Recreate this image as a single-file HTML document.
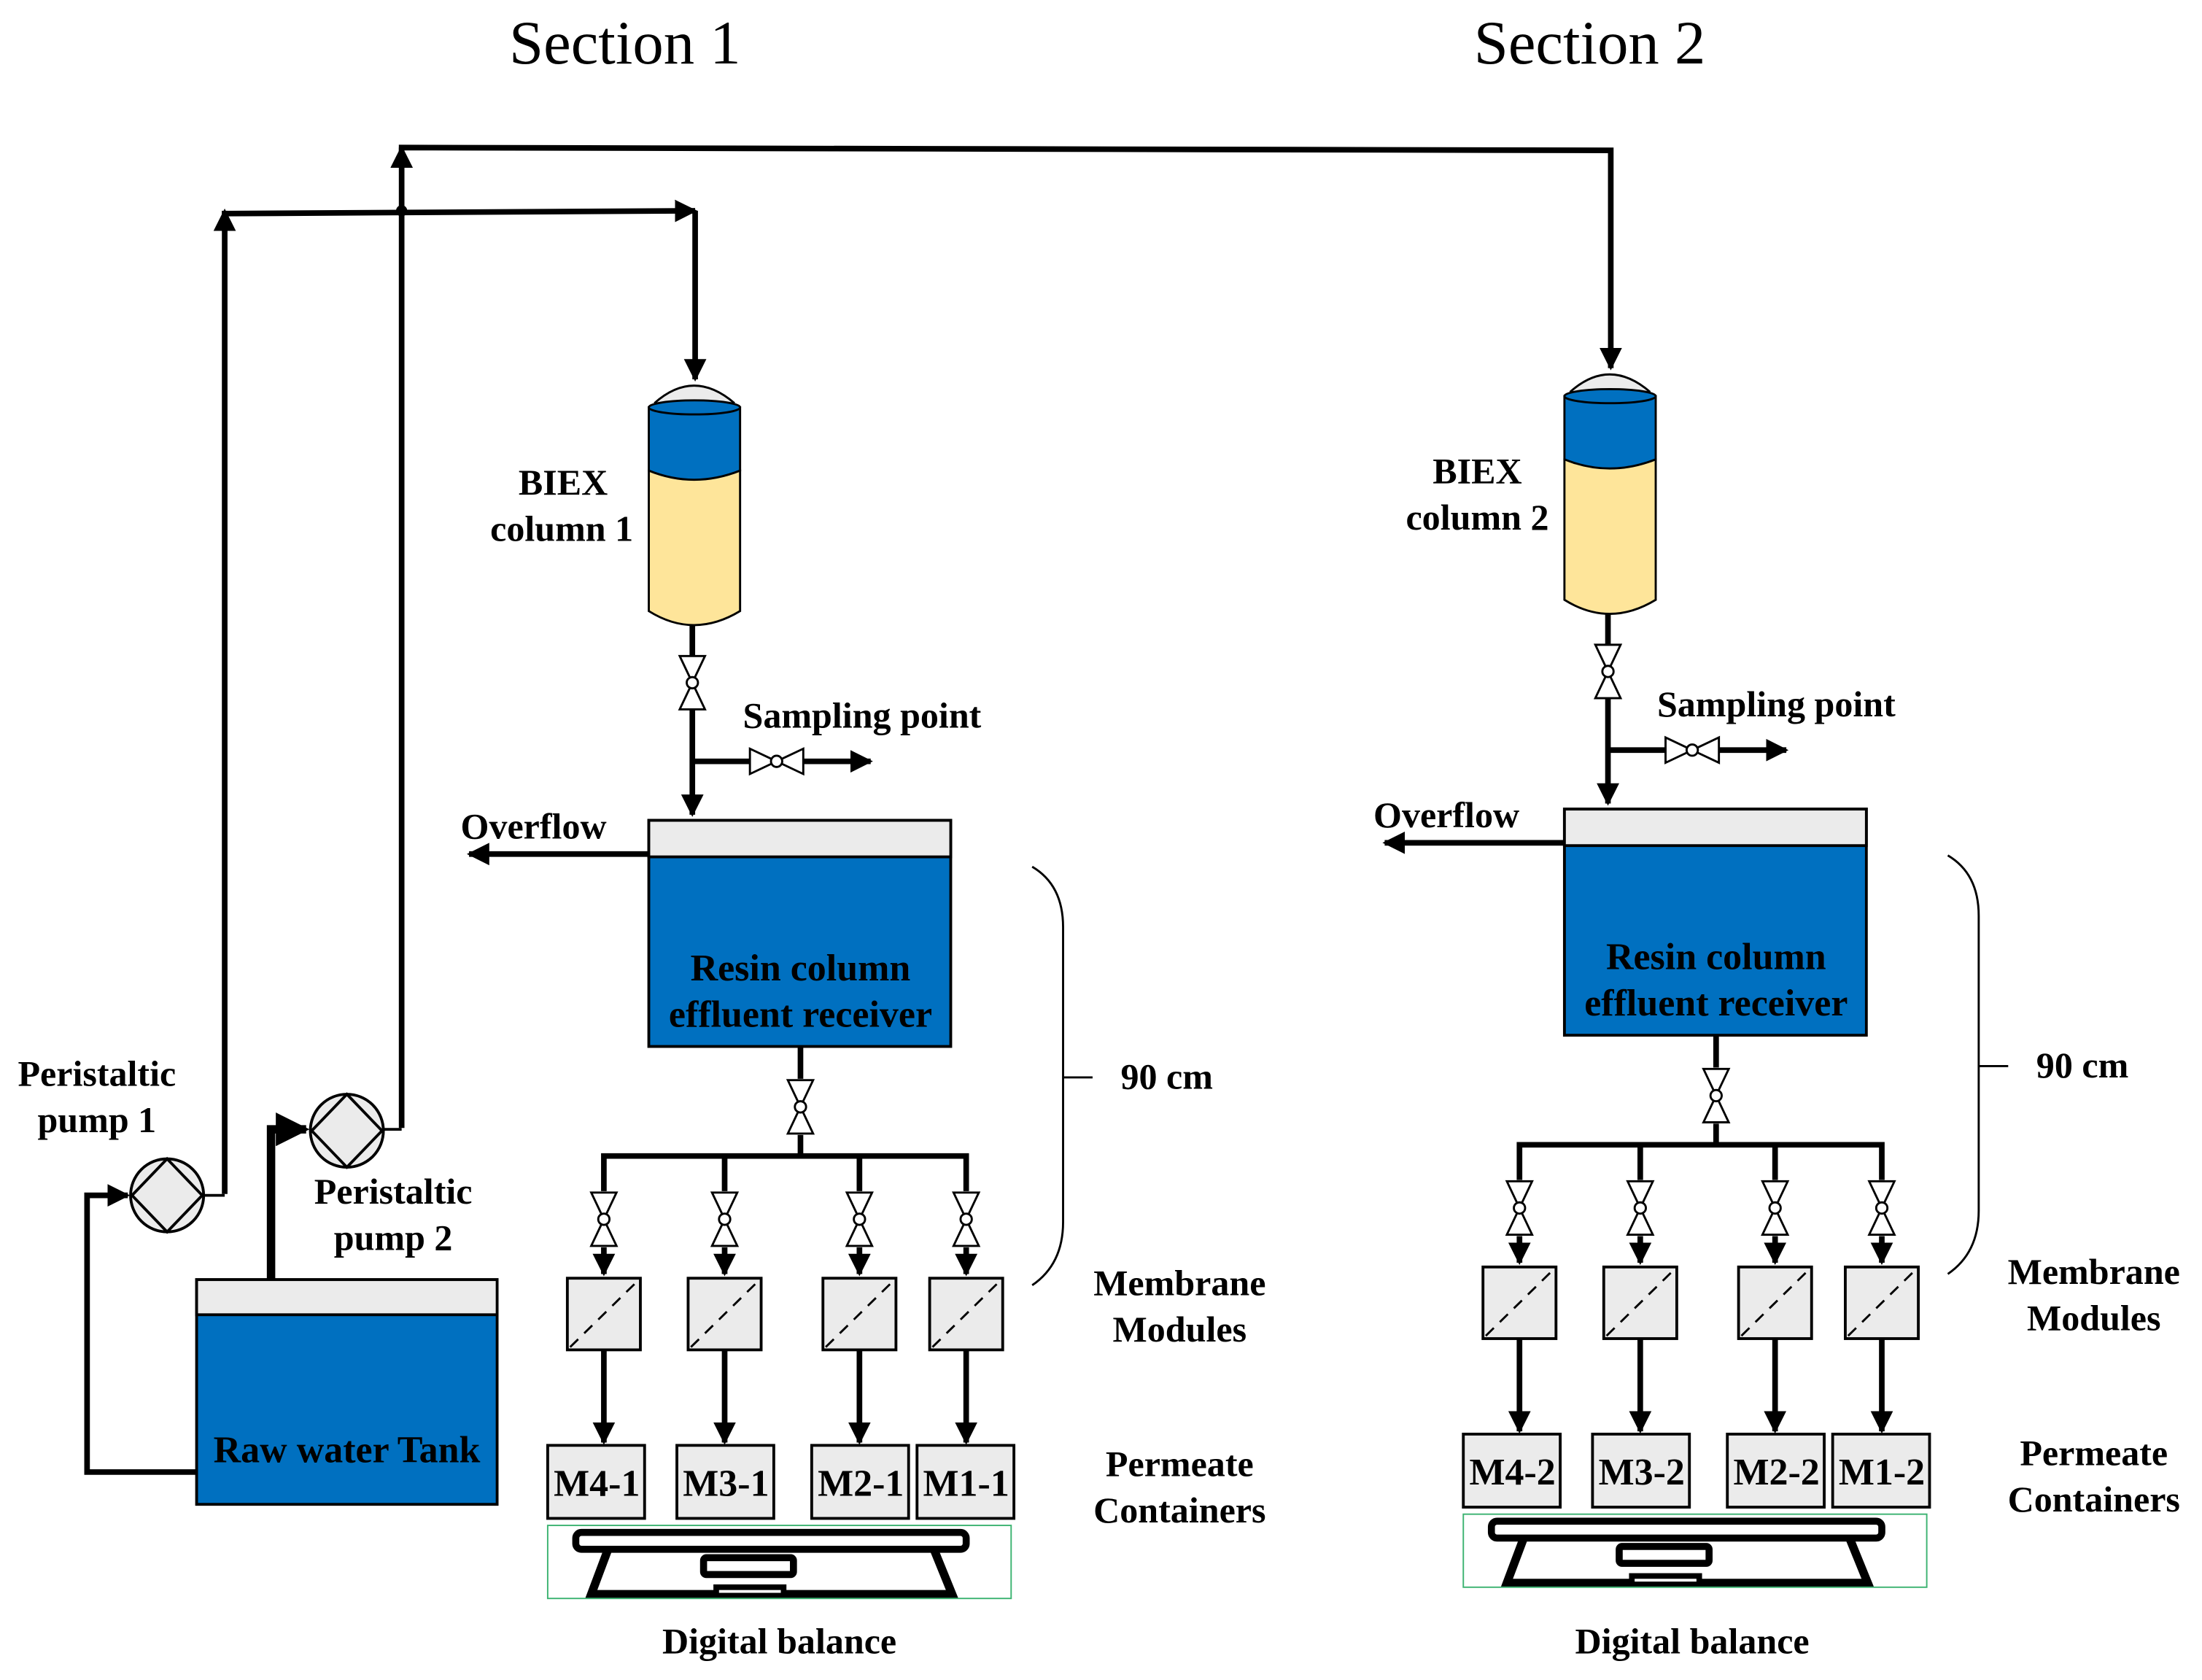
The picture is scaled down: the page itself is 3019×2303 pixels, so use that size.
<!DOCTYPE html>
<html><head><meta charset="utf-8"><style>
html,body{margin:0;padding:0;background:#fff;}
svg{display:block;}
text{font-family:"Liberation Serif",serif;font-weight:bold;fill:#000;}
</style></head><body>
<svg width="3019" height="2303" viewBox="0 0 1568 1196" xmlns="http://www.w3.org/2000/svg">
<defs>
<marker id="ah" viewBox="0 0 10 10" refX="9" refY="5" markerWidth="4" markerHeight="4" orient="auto"><path d="M0,0 L10,5 L0,10 z" fill="#000"/></marker>
<g id="vv"><path d="M-9,-19 L9,-19 L0,0 z M-9,19 L9,19 L0,0 z" fill="#fff" stroke="#000" stroke-width="1.5"/><circle cx="0" cy="0" r="4" fill="#fff" stroke="#000" stroke-width="1.5"/></g>
<g id="hv"><path d="M-19,-9 L-19,9 L0,0 z M19,-9 L19,9 L0,0 z" fill="#fff" stroke="#000" stroke-width="1.5"/><circle cx="0" cy="0" r="4" fill="#fff" stroke="#000" stroke-width="1.5"/></g>
<g id="mod"><rect x="0" y="0" width="52" height="51" fill="#ebebeb" stroke="#000" stroke-width="2"/><line x1="2" y1="49" x2="50" y2="2" stroke="#000" stroke-width="1.5" stroke-dasharray="8,6"/></g>
<g id="bal">
<rect x="410" y="1091" width="278" height="12" rx="4" fill="#fff" stroke="#000" stroke-width="5"/>
<path d="M433,1103 L421,1135 L678,1135 L665,1103" fill="none" stroke="#000" stroke-width="6"/>
<rect x="501" y="1109" width="64" height="12" rx="2" fill="#fff" stroke="#000" stroke-width="5"/>
<rect x="510" y="1130" width="48" height="6" fill="#fff" stroke="#000" stroke-width="4"/>
<rect x="390" y="1086" width="330" height="52" fill="none" stroke="#3cb371" stroke-width="1"/>
</g>
</defs>

<text x="445" y="45" font-size="44" text-anchor="middle" style="font-weight:normal">Section 1</text>
<text x="1132" y="45" font-size="44" text-anchor="middle" style="font-weight:normal">Section 2</text>

<g fill="none" stroke="#000" stroke-width="4">
<polyline points="286,803 286,105 1147,107 1147,262" marker-end="url(#ah)"/>
<polyline points="160,850 160,152 495,150" marker-end="url(#ah)"/>
<polyline points="495,150 495,270" marker-end="url(#ah)"/>
<polyline points="160,160 160,150" marker-end="url(#ah)"/>
<polyline points="286,115 286,105" marker-end="url(#ah)"/>
<polyline points="140,1048 62,1048 62,851 91,851" marker-end="url(#ah)"/>
<line x1="145" y1="851" x2="160" y2="851" stroke-width="2"/>
<polyline points="193,911 193,804 218,804" stroke-width="6" marker-end="url(#ah)"/>
<line x1="273" y1="804" x2="286" y2="804" stroke-width="2"/>
</g>
<circle cx="286" cy="150" r="4" fill="#000"/>

<circle cx="119" cy="851" r="26" fill="#ebebeb" stroke="#000" stroke-width="2"/>
<path d="M119,825 L144,851 L119,877 L94,851 z" fill="none" stroke="#000" stroke-width="2"/>
<circle cx="247" cy="805" r="26" fill="#ebebeb" stroke="#000" stroke-width="2"/>
<path d="M247,779 L272,805 L247,831 L222,805 z" fill="none" stroke="#000" stroke-width="2"/>

<rect x="140" y="911" width="214" height="160" fill="#0070c0" stroke="#000" stroke-width="2"/>
<rect x="140" y="911" width="214" height="25" fill="#ebebeb" stroke="#000" stroke-width="2"/>
<text x="247" y="1041" font-size="27" text-anchor="middle">Raw water Tank</text>
<text x="69" y="773" font-size="26" text-anchor="middle">Peristaltic</text>
<text x="69" y="806" font-size="26" text-anchor="middle">pump 1</text>
<text x="280" y="857" font-size="26" text-anchor="middle">Peristaltic</text>
<text x="280" y="890" font-size="26" text-anchor="middle">pump 2</text>

<g id="s1">
<path d="M466,287 Q494,262 523,287" fill="#ebebeb" stroke="#000" stroke-width="1.5"/>
<path d="M462,335 L462,435 Q494,455 527,435 L527,335 z" fill="#fee59a" stroke="#000" stroke-width="1.5"/>
<path d="M462,290 L462,335 Q494,348 527,335 L527,290 z" fill="#0070c0" stroke="#000" stroke-width="1.5"/>
<ellipse cx="494.5" cy="290" rx="32.5" ry="5" fill="#0070c0" stroke="#000" stroke-width="1.5"/>
<g fill="none" stroke="#000" stroke-width="4">
<line x1="493" y1="445" x2="493" y2="467"/>
<polyline points="493,505 493,580" marker-end="url(#ah)"/>
<polyline points="493,542 620,542" marker-end="url(#ah)"/>
<polyline points="462,608 334,608" marker-end="url(#ah)"/>
<line x1="570" y1="745" x2="570" y2="768"/>
<polyline points="570,808 570,823"/>
<polyline points="430,848 430,823 688,823 688,848"/>
<line x1="516" y1="823" x2="516" y2="848"/><line x1="612" y1="823" x2="612" y2="848"/>
<polyline points="430,888 430,907" marker-end="url(#ah)"/>
<polyline points="516,888 516,907" marker-end="url(#ah)"/>
<polyline points="612,888 612,907" marker-end="url(#ah)"/>
<polyline points="688,888 688,907" marker-end="url(#ah)"/>
<polyline points="430,961 430,1027" marker-end="url(#ah)"/>
<polyline points="516,961 516,1027" marker-end="url(#ah)"/>
<polyline points="612,961 612,1027" marker-end="url(#ah)"/>
<polyline points="688,961 688,1027" marker-end="url(#ah)"/>
</g>
<use href="#vv" x="493" y="486"/>
<use href="#hv" x="553" y="542"/>
<use href="#vv" x="570" y="788"/>
<use href="#vv" x="430" y="868"/><use href="#vv" x="516" y="868"/><use href="#vv" x="612" y="868"/><use href="#vv" x="688" y="868"/>
<rect x="462" y="584" width="215" height="161" fill="#0070c0" stroke="#000" stroke-width="2"/>
<rect x="462" y="584" width="215" height="26" fill="#ebebeb" stroke="#000" stroke-width="2"/>
<use href="#mod" x="404" y="910"/><use href="#mod" x="490" y="910"/><use href="#mod" x="586" y="910"/><use href="#mod" x="662" y="910"/>
<g fill="#ebebeb" stroke="#000" stroke-width="2">
<rect x="390" y="1029" width="69" height="52"/><rect x="482" y="1029" width="69" height="52"/>
<rect x="578" y="1029" width="69" height="52"/><rect x="653" y="1029" width="69" height="52"/>
</g>
<use href="#bal"/>
<path d="M735,617 Q757,630 757,660 L757,870 Q757,900 735,915" fill="none" stroke="#000" stroke-width="1.5"/>
<line x1="757" y1="767" x2="778" y2="767" stroke="#000" stroke-width="1.5"/>
</g>
<text x="401" y="352" font-size="26" text-anchor="middle">BIEX</text>
<text x="400" y="385" font-size="26" text-anchor="middle">column 1</text>
<text x="529" y="518" font-size="26">Sampling point</text>
<text x="328" y="597" font-size="26">Overflow</text>
<text x="570" y="698" font-size="27" text-anchor="middle">Resin column</text>
<text x="570" y="731" font-size="27" text-anchor="middle">effluent receiver</text>
<text x="798" y="775" font-size="26">90 cm</text>
<text x="840" y="922" font-size="26" text-anchor="middle">Membrane</text>
<text x="840" y="955" font-size="26" text-anchor="middle">Modules</text>
<text x="840" y="1051" font-size="26" text-anchor="middle">Permeate</text>
<text x="840" y="1084" font-size="26" text-anchor="middle">Containers</text>
<g font-size="27" text-anchor="middle">
<text x="425" y="1065">M4-1</text><text x="517" y="1065">M3-1</text><text x="613" y="1065">M2-1</text><text x="688" y="1065">M1-1</text>
</g>
<text x="555" y="1177" font-size="26" text-anchor="middle">Digital balance</text>

<use href="#s1" x="652" y="-8"/>
<text x="1052" y="344" font-size="26" text-anchor="middle">BIEX</text>
<text x="1052" y="377" font-size="26" text-anchor="middle">column 2</text>
<text x="1180" y="510" font-size="26">Sampling point</text>
<text x="978" y="589" font-size="26">Overflow</text>
<text x="1222" y="690" font-size="27" text-anchor="middle">Resin column</text>
<text x="1222" y="723" font-size="27" text-anchor="middle">effluent receiver</text>
<text x="1450" y="767" font-size="26">90 cm</text>
<text x="1491" y="914" font-size="26" text-anchor="middle">Membrane</text>
<text x="1491" y="947" font-size="26" text-anchor="middle">Modules</text>
<text x="1491" y="1043" font-size="26" text-anchor="middle">Permeate</text>
<text x="1491" y="1076" font-size="26" text-anchor="middle">Containers</text>
<g font-size="27" text-anchor="middle">
<text x="1077" y="1057">M4-2</text><text x="1169" y="1057">M3-2</text><text x="1265" y="1057">M2-2</text><text x="1340" y="1057">M1-2</text>
</g>
<text x="1205" y="1177" font-size="26" text-anchor="middle">Digital balance</text>
</svg>
</body></html>
